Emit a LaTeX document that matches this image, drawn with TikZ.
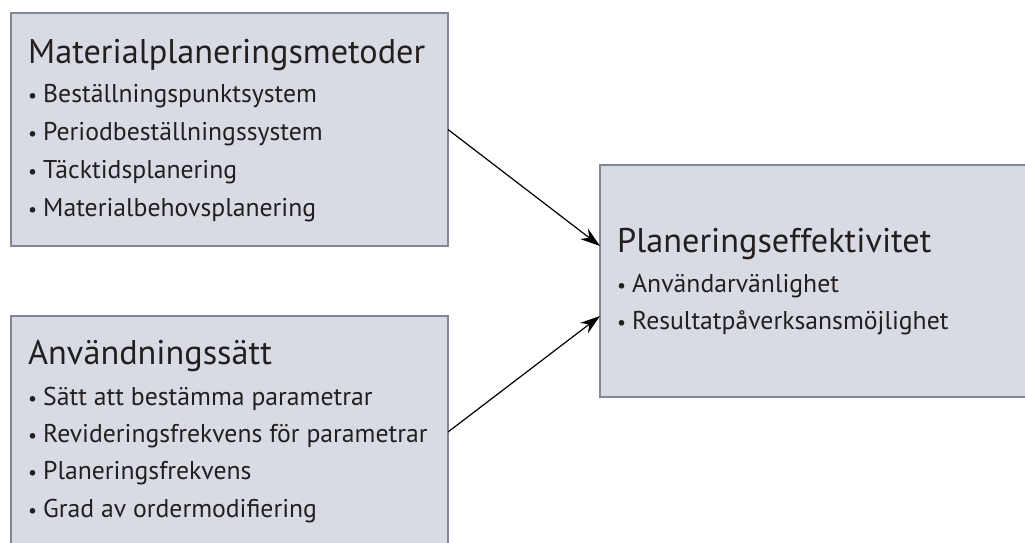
\documentclass[tikz,border=0pt]{standalone}
\usepackage{fontspec}
\setmainfont{PT Sans}
\usetikzlibrary{arrows.meta}
\definecolor{boxfill}{RGB}{216,219,227}
\definecolor{boxline}{RGB}{128,135,150}
\definecolor{txt}{RGB}{35,31,32}
\newcommand\bul{\makebox[15bp][l]{\fontsize{20}{20}\selectfont •}}
\begin{document}
\begin{tikzpicture}[x=1bp,y=-1bp,
  box/.style={draw=boxline, line width=1.5bp, fill=boxfill, inner sep=0pt, outer sep=0pt, minimum width=437bp, anchor=north west},
  head/.style={anchor=base west, inner sep=0pt, font=\fontsize{34.4}{34.4}\selectfont, text=txt},
  item/.style={anchor=base west, inner sep=0pt, font=\fontsize{25.8}{25.8}\selectfont, text=txt},
  conn/.style={line width=1.2bp, draw=black, -{Stealth[length=20bp,width=13bp]}}]
\useasboundingbox (0,0) rectangle (1025,543);
\node[box, minimum height=233bp] (m) at (11,13) {};
\node[box, minimum height=232bp] (a) at (11,316) {};
\node[box, minimum height=232bp] (p) at (600,165) {};
% box 1
\node[head] (mh) at (28,64) {Materialplaneringsmetoder};
\node[item] (m1) at (28,103) {\bul Beställningspunktsystem};
\node[item] (m2) at (28,141) {\bul Periodbeställningssystem};
\node[item] (m3) at (28,179) {\bul Täcktidsplanering};
\node[item] (m4) at (28,217) {\bul Materialbehovsplanering};
% box 2
\node[head] (ah) at (28,365) {Användningssätt};
\node[item] (a1) at (28,405) {\bul Sätt att bestämma parametrar};
\node[item] (a2) at (28,442) {\bul Revideringsfrekvens för parametrar};
\node[item] (a3) at (28,479) {\bul Planeringsfrekvens};
\node[item] (a4) at (28,517) {\bul Grad av ordermodifiering};
% box 3
\node[head] (ph) at (617,253) {Planeringseffektivitet};
\node[item] (p1) at (617,293) {\bul Användarvänlighet};
\node[item] (p2) at (617,330) {\bul Resultatpåverksansmöjlighet};
% connectors
\draw[conn] (m.east) -- ([yshift=35bp]p.west);
\draw[conn] (a.east) -- ([yshift=-35bp]p.west);
\end{tikzpicture}
\end{document}
